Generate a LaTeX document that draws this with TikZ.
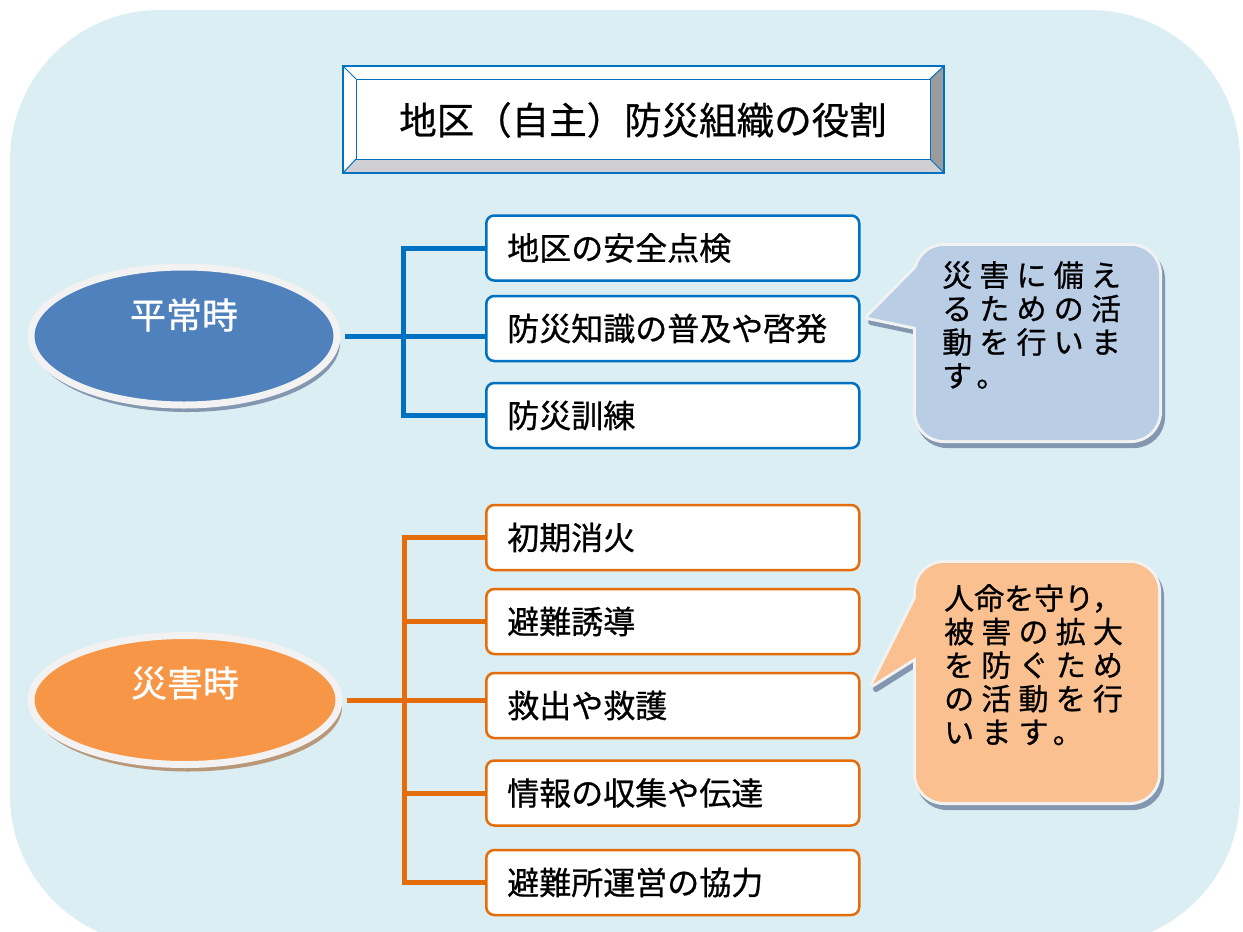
\documentclass[tikz,border=0pt]{standalone}
\usepackage{fontspec}
\setmainfont{Noto Sans CJK JP}[FakeBold=0.7]
\newfontfamily\bubblefont{Noto Sans CJK JP}[LetterSpace=24,FakeBold=0.7]
\usetikzlibrary{shadows,shapes.geometric}

\definecolor{bgblue}{HTML}{DAEEF3}
\definecolor{frameblue}{HTML}{0070C0}
\definecolor{calmline}{HTML}{0070C0}
\definecolor{disline}{HTML}{E46C0A}
\definecolor{calmfill}{HTML}{4F81BD}
\definecolor{disfill}{HTML}{F79646}
\definecolor{calmshadow}{HTML}{8497B0}
\definecolor{disshadow}{HTML}{B9987A}
\definecolor{ringgray}{HTML}{F2F2F2}
\definecolor{calmbub}{HTML}{B9CDE5}
\definecolor{disbub}{HTML}{FAC090}
\definecolor{bevelright}{HTML}{9C9C9C}
\definecolor{bevelbottom}{HTML}{CFCFD4}

\begin{document}
\begin{tikzpicture}[x=1pt,y=-1pt,
  item/.style={draw=#1,line width=2.5pt,fill=white,rounded corners=8pt,
    minimum width=373pt,minimum height=65pt,text width=331pt,inner xsep=21pt,
    align=left,anchor=west,font=\fontsize{32}{36}\selectfont},
  phase/.style={draw=ringgray,line width=7pt,fill=#1,ellipse,inner sep=0pt},
  phasetext/.style={text=white,font=\fontsize{36}{40}\selectfont},
  link/.style={draw=#1,line width=5pt},
  bubshadow/.style={fill=calmshadow,draw=calmshadow,line width=6pt,line join=round},
  bubborder/.style={draw=ringgray,line width=6pt,line join=round},
  bubtext/.style={anchor=north west,inner sep=0pt,align=left,
    font=\bubblefont\fontsize{30}{33.5}\selectfont}]

\useasboundingbox (0,0) rectangle (1243,932);
\fill[bgblue,rounded corners=150pt] (10,10) rectangle (1240,945);

% title plate
\fill[white] (343,66) rectangle (944,173);
\fill[bevelright] (944,66) -- (930,79) -- (930,159) -- (944,173) -- cycle;
\fill[bevelbottom] (343,173) -- (356,159) -- (930,159) -- (944,173) -- cycle;
\draw[frameblue,line width=1.5pt] (343,66) rectangle (944,173);
\draw[frameblue,line width=1pt] (356,79) rectangle (930,159);
\draw[frameblue,line width=1pt] (343,66) -- (356,79) (944,66) -- (930,79)
  (343,173) -- (356,159) (944,173) -- (930,159);
\node[font=\fontsize{37.5}{40}\selectfont] (title) at (643,120) {地区（自主）防災組織の役割};

% normal times
\node[item=calmline] (cb1) at (485,248) {地区の安全点検};
\node[item=calmline] (cb2) at (485,328.5) {防災知識の普及や啓発};
\node[item=calmline] (cb3) at (485,415.5) {防災訓練};
\node[phase=calmfill,minimum width=306pt,minimum height=138pt,
  drop shadow={shadow xshift=3pt,shadow yshift=-7pt,fill=calmshadow,opacity=1}]
  (calm) at (184,336) {};
\node[phasetext] (calmtext) at ([yshift=21pt]calm.center) {平常時};
\coordinate (calmtrunk) at (403,0);
\draw[link=calmline] ([xshift=4pt]calm.east) -- (calm.east -| cb2.west);
\draw[link=calmline] (cb1.west) -| (calmtrunk |- cb3.west) -- (cb3.west);

% disaster times
\node[item=disline] (db1) at (485,537.5) {初期消火};
\node[item=disline] (db2) at (485,621.5) {避難誘導};
\node[item=disline] (db3) at (485,705.5) {救出や救護};
\node[item=disline] (db4) at (485,793) {情報の収集や伝達};
\node[item=disline] (db5) at (485,882.5) {避難所運営の協力};
\node[phase=disfill,minimum width=308pt,minimum height=129pt,
  drop shadow={shadow xshift=3pt,shadow yshift=-7pt,fill=disshadow,opacity=1}]
  (dis) at (185,700) {};
\node[phasetext] (distext) at ([yshift=17pt]dis.center) {災害時};
\coordinate (distrunk) at (404,0);
\draw[link=disline] ([xshift=4pt]dis.east) -- (dis.east -| db3.west);
\draw[link=disline] (db1.west) -| (distrunk |- db5.west) -- (db5.west);
\draw[link=disline] (db2.west) -- (db2.west -| distrunk);
\draw[link=disline] (db4.west) -- (db4.west -| distrunk);

% speech bubbles
\begin{scope}[shift={(3,5)}]
\filldraw[bubshadow,rounded corners=28pt] (916,246) rectangle (1159,440);
\filldraw[bubshadow] (930,254) -- (868,317) -- (930,330) -- cycle;
\filldraw[bubshadow,rounded corners=28pt] (916,563) rectangle (1158,802);
\filldraw[bubshadow] (930,570) -- (873,684) -- (930,648) -- cycle;
\end{scope}
\draw[bubborder,rounded corners=28pt] (916,246) rectangle (1159,440);
\draw[bubborder] (930,254) -- (868,317) -- (930,330) -- cycle;
\fill[calmbub,rounded corners=28pt] (916,246) rectangle (1159,440);
\fill[calmbub] (930,254) -- (868,317) -- (930,330) -- cycle;
\draw[bubborder,rounded corners=28pt] (916,563) rectangle (1158,802);
\draw[bubborder] (930,570) -- (873,684) -- (930,648) -- cycle;
\fill[disbub,rounded corners=28pt] (916,563) rectangle (1158,802);
\fill[disbub] (930,570) -- (873,684) -- (930,648) -- cycle;

\node[bubtext] (calmnote) at (942,261) {災害に備え\\るための活\\動を行いま\\す。};
\node[bubtext] (disnote) at (944,584) {{\rmfamily 人命を守り，}\\被害の拡大\\を防ぐため\\の活動を行\\います。};
\end{tikzpicture}
\end{document}
